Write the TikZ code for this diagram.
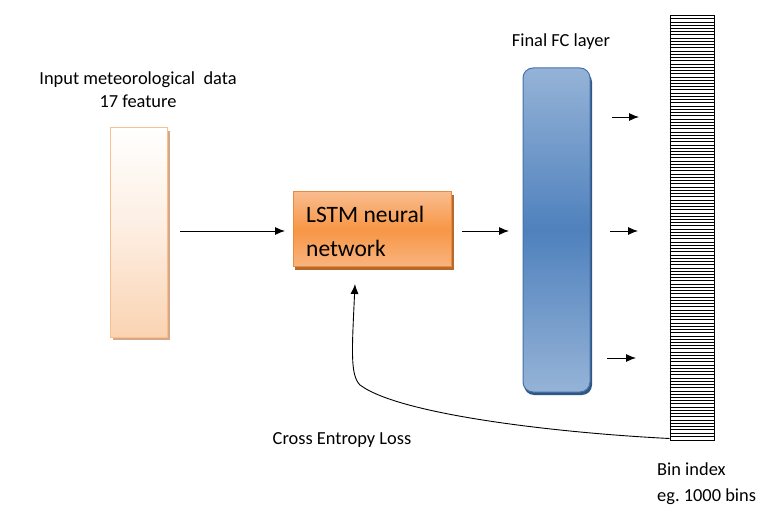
\documentclass[tikz,border=0pt]{standalone}
\usepackage{fontspec}
\setmainfont{Carlito}
\usetikzlibrary{arrows.meta}
\definecolor{inborder}{HTML}{F9C08F}
\definecolor{inbottom}{HTML}{FAD3B2}
\definecolor{inshadow}{HTML}{D8A785}
\definecolor{lstmtop}{HTML}{F9BC8E}
\definecolor{lstmmid}{HTML}{F79646}
\definecolor{lstmborder}{HTML}{E98A3E}
\definecolor{lstmshadow}{HTML}{B86A2A}
\definecolor{fcedge}{HTML}{95B3D7}
\definecolor{fcmid}{HTML}{4F81BD}
\definecolor{fcborder}{HTML}{4472A8}
\definecolor{fcshadow}{HTML}{2F5685}
\tikzset{
  lbl/.style={font=\fontsize{18.4}{22}\selectfont, inner sep=0pt},
  conn/.style={line width=0.9pt, -{Latex[length=10pt,width=8pt]}},
}
\begin{document}
\begin{tikzpicture}[x=1pt,y=-1pt]
\useasboundingbox[fill=white] (0,0) rectangle (772,532);
% input box
\fill[inshadow] (113,131) rectangle (170,340);
\node[draw=inborder, line width=1pt, top color=white, bottom color=inbottom, middle color=white!60!inbottom,
  minimum width=57pt, minimum height=209pt, inner sep=0pt] (in) at (139,232.5) {};
\node[lbl, anchor=base] (intxt1) at (138,85) {Input meteorological\ \ data};
\node[lbl, anchor=base] (intxt2) at (138,108) {17 feature};
% LSTM box
\fill[lstmshadow] (295,195) rectangle (454,270);
\node[draw=lstmborder, line width=1pt, top color=lstmtop, bottom color=lstmtop!80!lstmmid, middle color=lstmmid,
  minimum width=158pt, minimum height=75pt, inner sep=0pt] (lstm) at (372,229.5) {};
\node[anchor=base west, inner sep=0pt, font=\fontsize{23.5}{28}\selectfont] (lstmtxt1) at (306,223) {LSTM neural};
\node[anchor=base west, inner sep=0pt, font=\fontsize{23.5}{28}\selectfont] (lstmtxt2) at (306,256) {network};
% FC layer
\fill[fcshadow, rounded corners=10pt] (524,72) rectangle (592,395);
\node[draw=fcborder, line width=1pt, rounded corners=10pt, top color=fcedge, bottom color=fcedge, middle color=fcmid,
  minimum width=67pt, minimum height=324pt, inner sep=0pt] (fc) at (556.5,230) {};
\node[lbl, anchor=base] (fctxt) at (561,47) {Final FC layer};
% bins
\node[draw, line width=1pt, minimum width=44pt, minimum height=424pt, inner sep=0pt] (bins) at (692,228) {};
\foreach \i in {1,...,130} {
  \draw[line width=0.9pt] ([yshift=-\i*3.237pt]bins.north west) -- ([yshift=-\i*3.237pt]bins.north east);
}
\node[lbl, anchor=base west] (bintxt1) at (657,475) {Bin index};
\node[lbl, anchor=base west] (bintxt2) at (657,501) {eg.\ 1000 bins};
% connectors
\coordinate (a1s) at (180,231); \coordinate (a1e) at (285,231);
\draw[conn] (a1s) -- (a1e);
\coordinate (a2s) at (462,231); \coordinate (a2e) at (509,231);
\draw[conn] (a2s) -- (a2e);
\coordinate (o1s) at (612,117); \coordinate (o1e) at (639,117);
\coordinate (o2s) at (610,231); \coordinate (o2e) at (638,231);
\coordinate (o3s) at (607,358); \coordinate (o3e) at (636,358);
\draw[conn] (o1s) -- (o1e);
\draw[conn] (o2s) -- (o2e);
\draw[conn] (o3s) -- (o3e);
% feedback curve
\coordinate (fbend) at (355,284);
\draw[conn] (bins.south west) ++(0,-2)
  .. controls (560,433) and (400,415) .. (360,385)
  .. controls (350,375) and (352,350) .. (fbend);
\node[lbl, anchor=base] (loss) at (342,444) {Cross Entropy Loss};
\end{tikzpicture}
\end{document}
